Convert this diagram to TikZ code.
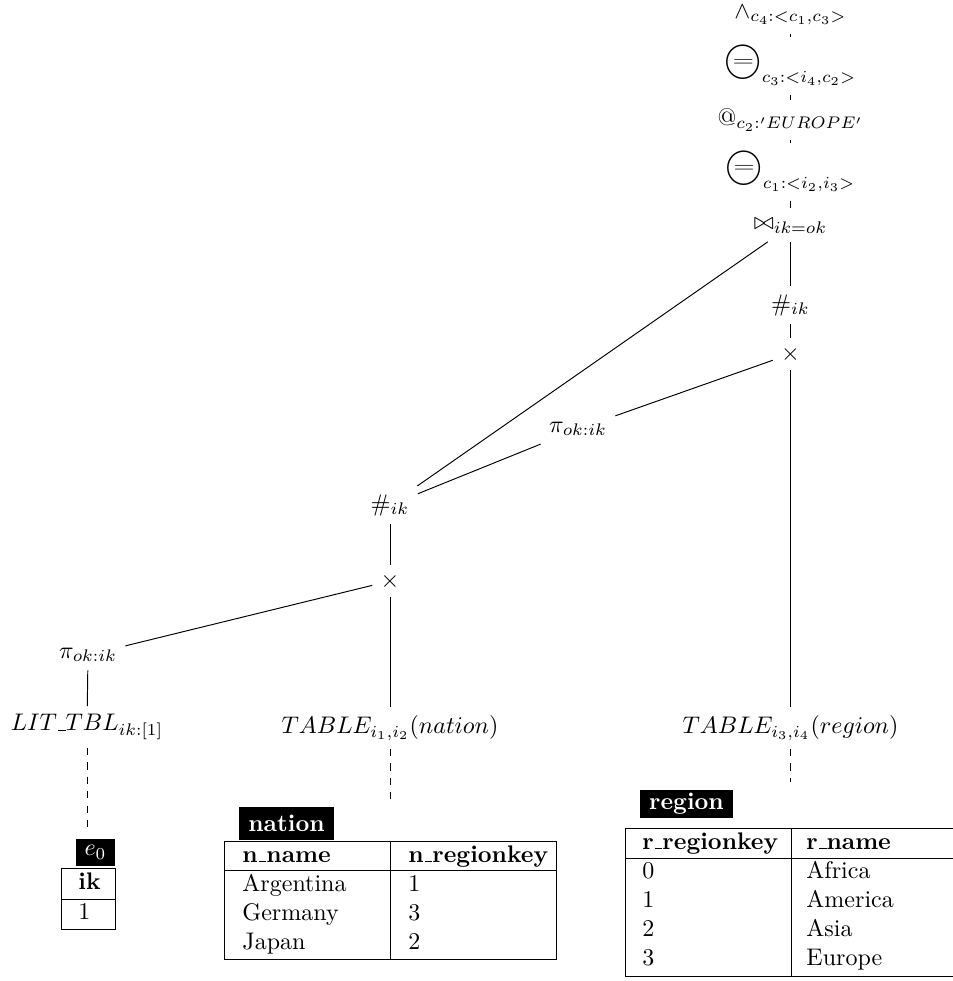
\documentclass[tikz,border=0pt]{standalone}
\usepackage{graphicx}
\usetikzlibrary{calc}

% circled equals sign used for the comparison operators
\newcommand{\circeqop}{\mbox{\ooalign{\raisebox{3.2pt}{\scalebox{1.55}{$\bigcirc$}}\cr
  \hidewidth\raisebox{5.4pt}{\scalebox{1.15}[0.8]{$=$}}\hidewidth\cr}}}
% short low underscore of the classic text fonts
\newcommand{\us}{\leavevmode\kern.06em\vbox{\hrule width.3em}}
\def\u{0.4167pt}

\begin{document}
\begin{tikzpicture}[x=0.4167pt, y=-0.4167pt,
  op/.style={inner sep=3.33pt},
  tframe/.style={draw, inner sep=0pt, anchor=north west},
  cell/.style={inner sep=0pt, anchor=base west},
  tlabel/.style={fill=black, text=white, font=\bfseries, inner sep=0pt}]
\useasboundingbox (0,0) rectangle (953,981);

% operator tree
\node[op] (and)    at (790.5,15)  {$\wedge_{c_4:<c_1,c_3>}$};
\node[op] (ceqa)   at (790.5,66)  {$\circeqop_{c_3:<i_4,c_2>}$};
\node[op] (sel)    at (790.5,120) {$@_{c_2:'EUROPE'}$};
\node[op] (ceqb)   at (790.5,172) {$\circeqop_{c_1:<i_2,i_3>}$};
\node[op] (join)   at (790.5,226) {$\bowtie_{ik=ok}$};
\node[op] (rnkR)   at (790.5,305) {$\#_{ik}$};
\node[op] (crossR) at (790.5,354) {$\times$};
\node[op] (projR)  at (578,429)   {$\pi_{ok:ik}$};
\node[op] (rnkL)   at (390,505)   {$\#_{ik}$};
\node[op] (crossL) at (390,581)   {$\times$};
\node[op] (projL)  at (88,655)    {$\pi_{ok:ik}$};
\node[op] (lit)    at (87,727)    {$LIT\mbox{\us}TBL_{ik:[1]}$};
\node[op] (tnat)   at (390,728)   {$TABLE_{i_1,i_2}(nation)$};
\node[op] (treg)   at (790.5,728) {$TABLE_{i_3,i_4}(region)$};

\draw[dashed] (and) -- (ceqa);
\draw[dashed] (ceqa) -- (sel);
\draw[dashed] (sel) -- (ceqb);
\draw[dashed] (ceqb) -- (join);
\draw (join) -- (rnkR);
\draw (rnkR) -- (crossR);
\draw (crossR) -- (treg);
\draw (crossR) -- (projR);
\draw (projR) -- (rnkL);
\draw (join) -- (rnkL);
\draw (rnkL) -- (crossL);
\draw (crossL) -- (projL);
\draw (crossL) -- (tnat);
\draw (projL) -- (lit);

% literal table e0
\node[tlabel, minimum width=39*\u, minimum height=27*\u] (e0L) at (95.5,852.5) {$e_0$};
\node[tframe, minimum width=54*\u, minimum height=61*\u] (e0T) at (61,868) {};
\draw (61,899) -- (115,899);
\node[cell] (e0h) at (78,889) {\textbf{ik}};
\node[cell] (e0a) at (78,919) {1};

% table nation
\node[tlabel, minimum width=95*\u, minimum height=33*\u] (natL) at (286.5,823.5) {nation};
\node[tframe, minimum width=332*\u, minimum height=118*\u] (natT) at (224,841) {};
\draw (224,870) -- (556,870);
\draw (390,841) -- (390,959);
\node[cell] (nh1) at (242,862) {\textbf{n\us name}};
\node[cell] (nh2) at (408,862) {\textbf{n\us regionkey}};
\node[cell] (na1) at (242,891) {Argentina};
\node[cell] (na2) at (408,891) {1};
\node[cell] (nb1) at (242,920) {Germany};
\node[cell] (nb2) at (408,920) {3};
\node[cell] (nc1) at (242,949) {Japan};
\node[cell] (nc2) at (408,949) {2};

% table region
\node[tlabel, minimum width=93*\u, minimum height=28*\u] (regL) at (686.5,804) {region};
\node[tframe, minimum width=340*\u, minimum height=148*\u] (regT) at (625,828) {};
\draw (625,858) -- (965,858);
\draw (791,828) -- (791,976);
\node[cell] (rh1) at (642,849) {\textbf{r\us regionkey}};
\node[cell] (rh2) at (806,849) {\textbf{r\us name}};
\node[cell] (ra1) at (642,878.5) {0};
\node[cell] (ra2) at (806,878.5) {Africa};
\node[cell] (rb1) at (642,907.5) {1};
\node[cell] (rb2) at (806,907.5) {America};
\node[cell] (rc1) at (642,936.5) {2};
\node[cell] (rc2) at (806,936.5) {Asia};
\node[cell] (rd1) at (642,965.5) {3};
\node[cell] (rd2) at (806,965.5) {Europe};

% scans down to their base tables
\draw[dashed] (lit) -- ($(lit |- e0L.north)+(0,-5)$);
\draw[dashed] (tnat) -- ($(tnat |- natL.north)+(0,-7)$);
\draw[dashed] (treg) -- ($(treg |- regL.north)+(0,-8)$);
\end{tikzpicture}
\end{document}
